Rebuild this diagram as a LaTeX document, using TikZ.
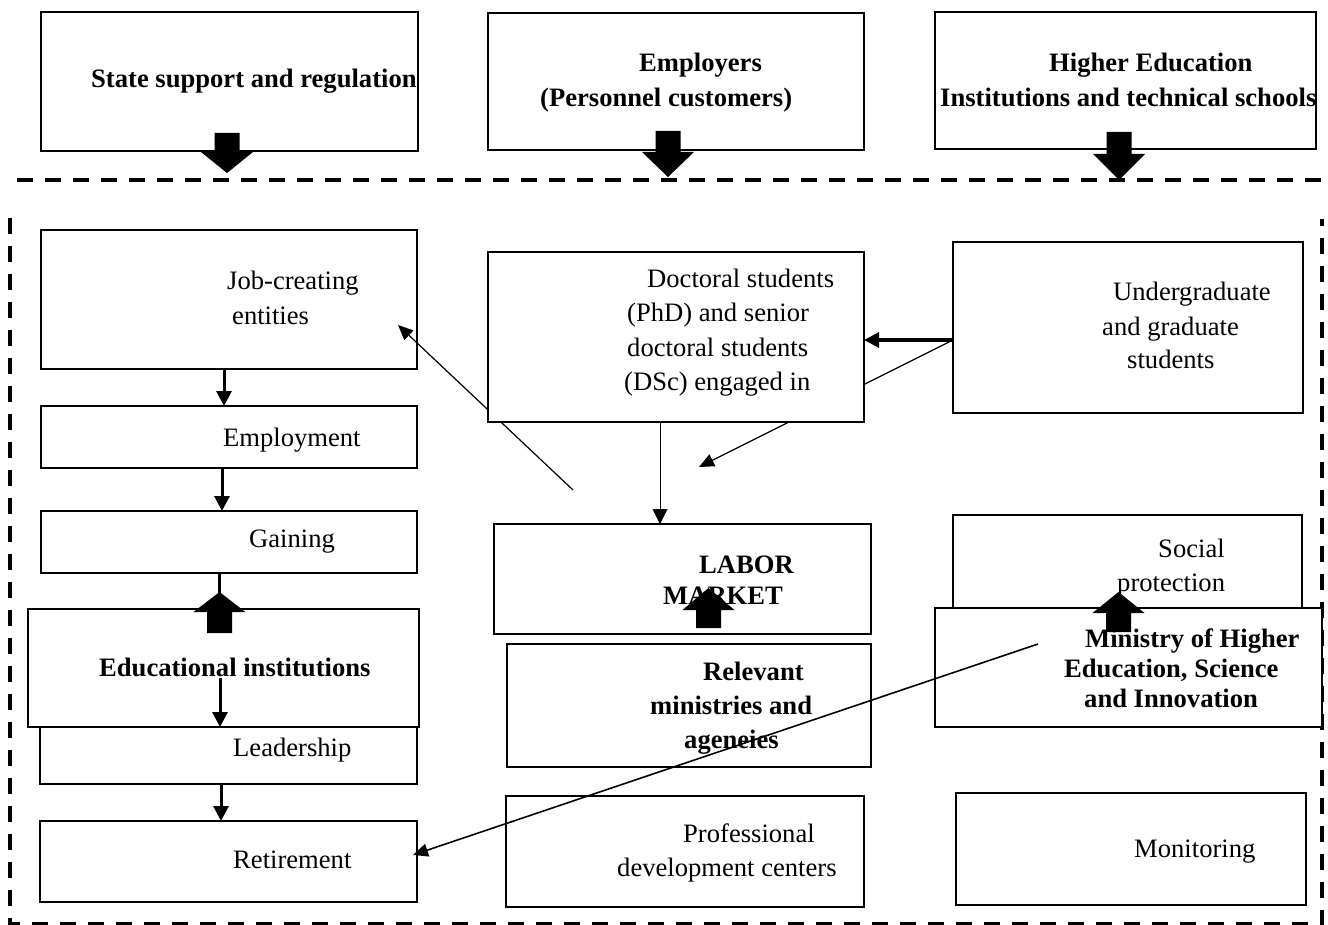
\documentclass[tikz,border=0pt]{standalone}
\usepackage{fontspec}
\setmainfont{Liberation Serif}
\usetikzlibrary{arrows.meta}
\newcommand\blkarrow[4]{% centre x, shaft end, head base, tip
  \fill[black] (#1-12.5,#2) -- (#1+12.5,#2) -- (#1+12.5,#3) -- (#1+26,#3) -- (#1,#4) -- (#1-26,#3) -- (#1-12.5,#3) -- cycle;}
\begin{document}
\begin{tikzpicture}[x=1pt,y=-1pt,
  box/.style={draw, line width=2.5pt, fill=white, inner sep=0pt, outer sep=0pt, anchor=north west},
  tx/.style={anchor=base west, inner sep=0pt, font=\fontsize{26.6}{34}\selectfont},
  btx/.style={anchor=base west, inner sep=0pt, font=\fontsize{26.6}{34}\selectfont\bfseries},
  thickarr/.style={line width=3pt, -{Triangle[length=15pt,width=15pt]}},
  thinarr/.style={line width=1.2pt, -{Triangle[length=15pt,width=13pt]}},
  medarr/.style={line width=1.6pt, -{Triangle[length=15pt,width=13pt]}},
  dashline/.style={line width=4pt, dash pattern=on 16pt off 12pt}]
\useasboundingbox (0,0) rectangle (1328,925);

% ---------- top row ----------
\node[box, minimum width=377pt, minimum height=139pt] (state) at (41,12) {};
\node[btx] (statet) at (91,88) {State support and regulation};
\node[box, minimum width=376pt, minimum height=137pt] (empl) at (488,13) {};
\node[btx] (emplt1) at (639,72) {Employers};
\node[btx] (emplt2) at (540,107) {(Personnel customers)};
\node[box, minimum width=381pt, minimum height=137pt] (hei) at (935,12) {};
\node[btx] (heit1) at (1049,72) {Higher Education};
\node[btx] (heit2) at (940,107) {Institutions and technical schools};
\blkarrow{227}{133}{152}{173}
\blkarrow{668}{131}{152}{177}
\blkarrow{1119}{132}{154}{180}

% ---------- dashed frame ----------
\draw[dashline] (17,180) -- (1326,180);
\draw[dashline] (10,218) -- (10,924) -- (1322,924) -- (1322,219);

% ---------- left column (upper) ----------
\node[box, minimum width=376pt, minimum height=139pt] (job) at (41,230) {};
\node[tx] (jobt1) at (227,290) {Job-creating};
\node[tx] (jobt2) at (232,324) {entities};

% lines passing behind the doctoral box
\coordinate (jobtail) at (573,490);
\coordinate (jobtip) at (398,325);
\draw[thinarr] (jobtail) -- (jobtip);
\coordinate (ugout) at (953,340);
\coordinate (ugtip) at (699,467);
\draw[thinarr] (ugout) -- (ugtip);

% ---------- doctoral ----------
\node[box, minimum width=376pt, minimum height=170pt] (doc) at (488,252) {};
\node[tx] (doct1) at (647,288) {Doctoral students};
\node[tx] (doct2) at (627,322) {(PhD) and senior};
\node[tx] (doct3) at (627,356) {doctoral students};
\node[tx] (doct4) at (624,390) {(DSc) engaged in};

\node[box, minimum width=376pt, minimum height=62pt] (emp) at (41,406) {};
\node[tx] (empt) at (223,446) {Employment};
\node[box, minimum width=376pt, minimum height=62pt] (gain) at (41,511) {};
\node[tx] (gaint) at (249,547) {Gaining};

\node[box, minimum width=377pt, minimum height=72pt] (lead) at (40,712) {};
\node[tx] (leadt) at (233,756) {Leadership};
\node[box, minimum width=391pt, minimum height=118pt] (edu) at (28,609) {};
\node[btx] (edut) at (99,676) {Educational institutions};
\node[box, minimum width=377pt, minimum height=81pt] (ret) at (40,821) {};
\node[tx] (rett) at (233,868) {Retirement};

% ---------- middle column ----------
\node[box, minimum width=377pt, minimum height=110pt] (labor) at (494,524) {};
\node[btx] (labort1) at (699,573) {LABOR};
\node[btx] (labort2) at (663,604) {MARKET};
\node[box, minimum width=364pt, minimum height=123pt] (rel) at (507,644) {};
\node[btx] (relt1) at (703,680) {Relevant};
\node[btx] (relt2) at (650,714) {ministries and};
\node[btx] (relt3) at (684,748) {ageneies};
\node[box, minimum width=358pt, minimum height=111pt] (prof) at (506,796) {};
\node[tx] (proft1) at (683,842) {Professional};
\node[tx] (proft2) at (617,876) {development centers};

% ---------- right column ----------
\node[box, minimum width=350pt, minimum height=171pt] (ug) at (953,242) {};
\node[tx] (ugt1) at (1113,301) {Undergraduate};
\node[tx] (ugt2) at (1102,335) {and graduate};
\node[tx] (ugt3) at (1127,368) {students};
\node[box, minimum width=349pt, minimum height=125pt] (soc) at (953,515) {};
\node[tx] (soct1) at (1158,557) {Social};
\node[tx] (soct2) at (1117,591) {protection};
\node[box, minimum width=387pt, minimum height=119pt] (min) at (935,608) {};
\node[btx] (mint1) at (1085,647) {Ministry of Higher};
\node[btx] (mint2) at (1064,677) {Education, Science};
\node[btx] (mint3) at (1084,707) {and Innovation};
\node[box, minimum width=350pt, minimum height=112pt] (mon) at (956,793) {};
\node[tx] (mont) at (1134,857) {Monitoring};

% ---------- connectors ----------
\draw[thickarr] ([xshift=-5pt]job.south) -- ([xshift=-5pt]emp.north);
\draw[thickarr] ([xshift=-7pt]emp.south) -- ([xshift=-7pt]gain.north);
\draw[line width=3pt] ([xshift=-10pt]gain.south) -- (219,598);
\blkarrow{219.5}{633}{612}{592}
\coordinate (eduin) at (220,678);
\draw[thickarr] (eduin) -- ([xshift=-3.5pt]edu.south);
\draw[thickarr] ([xshift=-7.5pt]lead.south) -- ([xshift=-7.5pt]ret.north);

\draw[thickarr] (ugout) -- (ugout -| doc.east);
\draw[line width=1pt, -{Triangle[length=15pt,width=15pt]}] (660,0 |- doc.south) -- (660,0 |- labor.north);
\blkarrow{708.5}{628}{610}{588}
\blkarrow{1118.5}{632}{613}{592}

\coordinate (minout) at (1038,644);
\coordinate (rettip) at (413,855);
\draw[medarr] (minout) -- (rettip);
\end{tikzpicture}
\end{document}
